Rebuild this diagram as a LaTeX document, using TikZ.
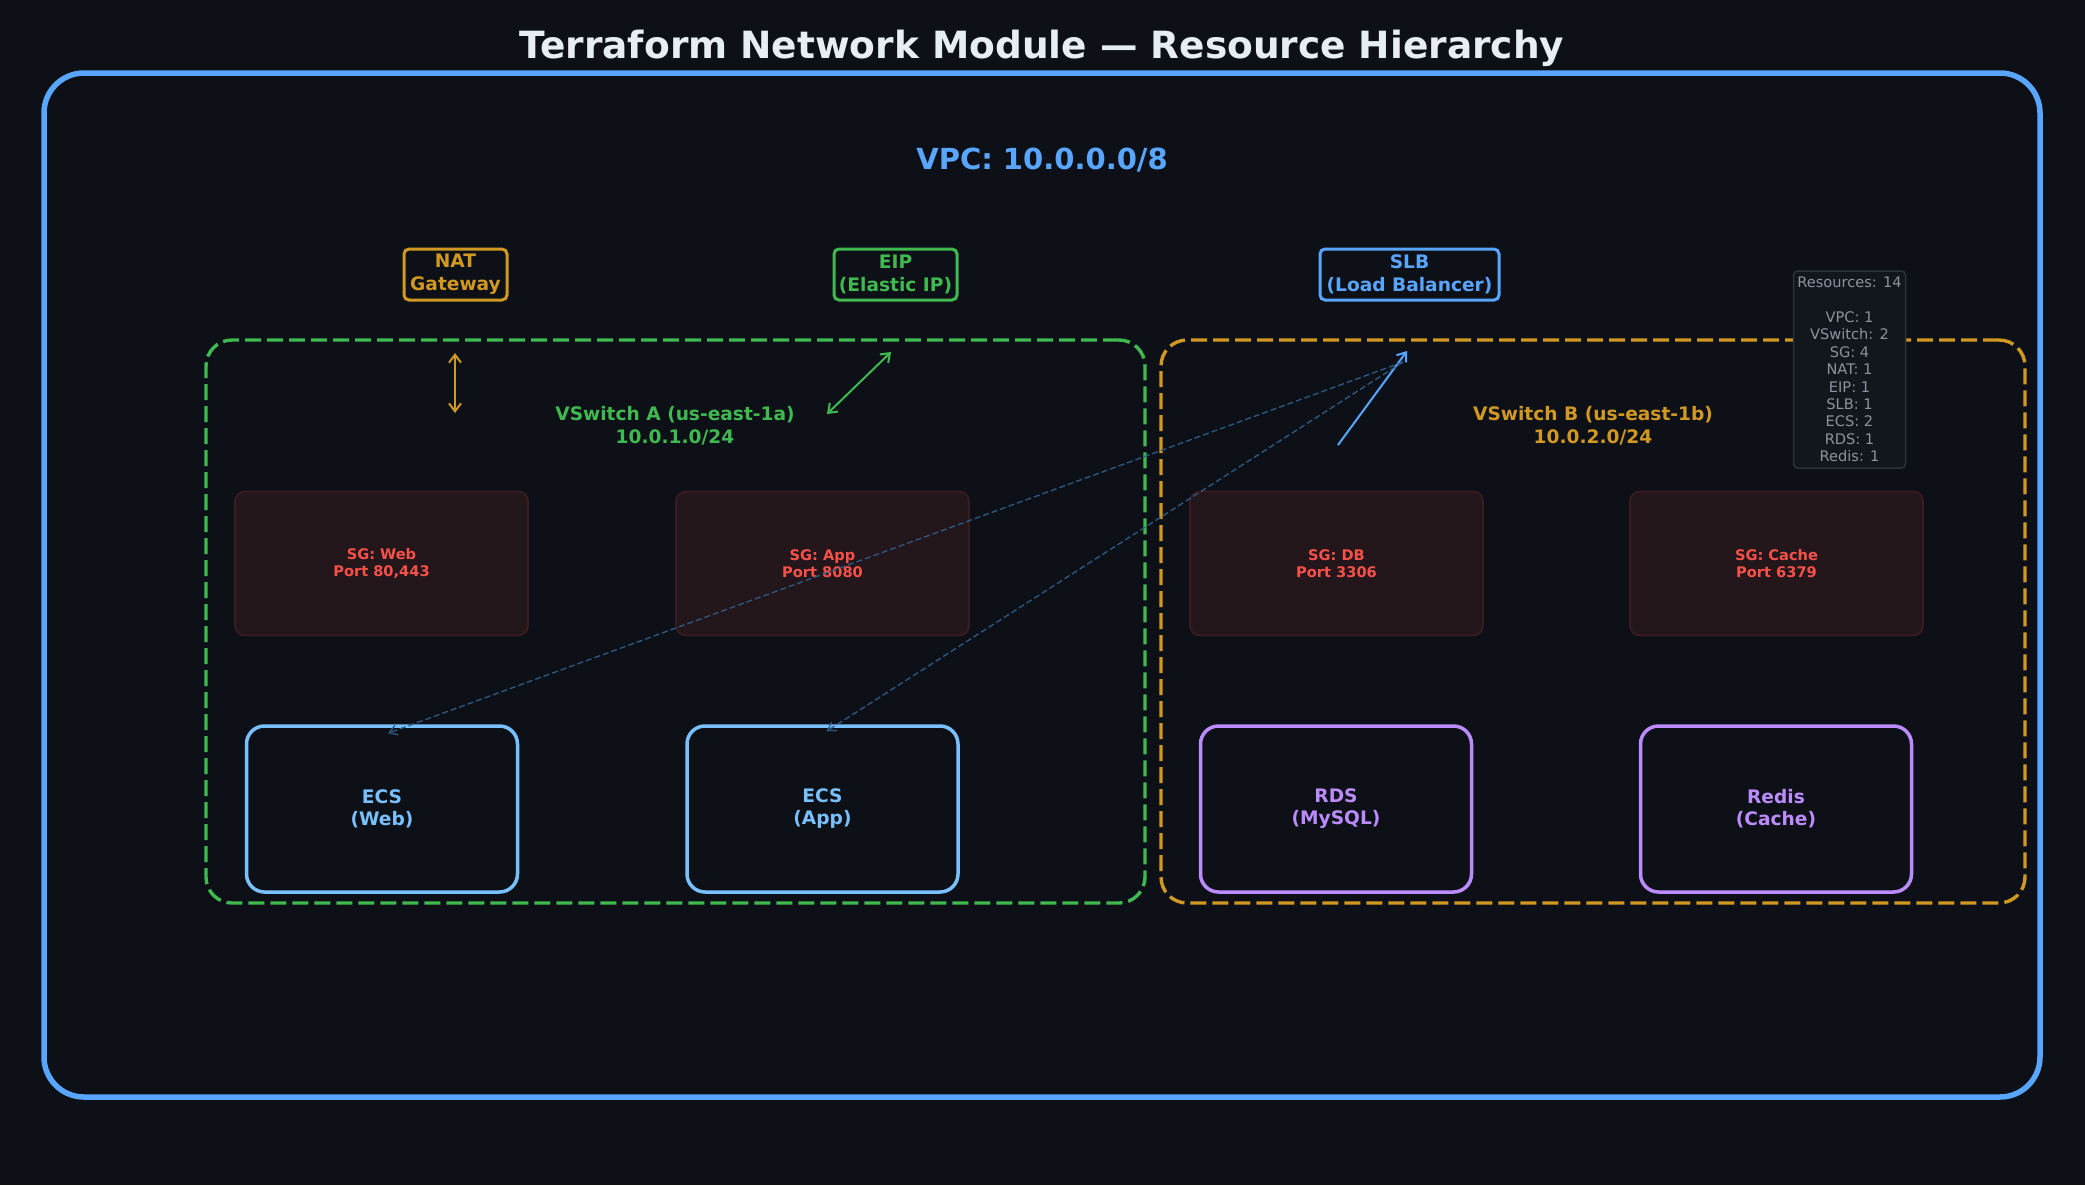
\documentclass[tikz,border=0pt]{standalone}
\usepackage{fontspec}
\setmainfont{DejaVu Sans}
\usepackage{tikz}
\usetikzlibrary{positioning,arrows.meta}
\definecolor{bgdark}{HTML}{0D1117}
\definecolor{titlecol}{HTML}{E6EDF3}
\definecolor{vpcblue}{HTML}{58A6FF}
\definecolor{natorange}{HTML}{D29922}
\definecolor{eipgreen}{HTML}{3FB950}
\definecolor{ecsblue}{HTML}{79C0FF}
\definecolor{dbpurple}{HTML}{BC8CFF}
\definecolor{sgred}{HTML}{F85149}
\definecolor{sgfill}{HTML}{24171C}
\definecolor{sgline}{HTML}{3A1C21}
\definecolor{statfill}{HTML}{12161D}
\definecolor{statline}{HTML}{2D333B}
\definecolor{stattext}{HTML}{8B949E}
\definecolor{linkblue}{HTML}{2E5A85}

\begin{document}
\begin{tikzpicture}[
x=0.5pt, y=-0.5pt,
topbox/.style={draw=#1, text=#1, line width=1.5pt, rounded corners=2.5pt, fill=bgdark, align=center, font=\fontsize{9.3}{11.4}\selectfont\bfseries, inner sep=1.5pt},
zonebox/.style={draw=#1, line width=1.7pt, dash pattern=on 8pt off 3pt, rounded corners=13pt, minimum height=281.5pt},
zonelabel/.style={text=#1, align=center, font=\fontsize{9.3}{11.4}\selectfont\bfseries},
sgbox/.style={draw=sgline, fill=sgfill, line width=0.9pt, rounded corners=5pt, minimum width=146.5pt, minimum height=72pt, text=sgred, align=center, font=\fontsize{7.3}{8.8}\selectfont\bfseries},
svcbox/.style={draw=#1, text=#1, fill=bgdark, line width=1.75pt, rounded corners=9pt, minimum width=135.5pt, minimum height=83pt, align=center, font=\fontsize{9.3}{11}\selectfont\bfseries},
link/.style={-{Straight Barb[length=4pt,width=6pt]}, line width=1pt, #1},
dlink/.style={{Straight Barb[length=4pt,width=6pt]}-{Straight Barb[length=4pt,width=6pt]}, line width=1pt, #1},
weblink/.style={-{Straight Barb[length=4pt,width=5pt]}, line width=0.65pt, linkblue, dash pattern=on 3pt off 1.5pt}
]
\fill[bgdark] (0,0) rectangle (2085,1185);
\useasboundingbox (0,0) rectangle (2085,1185);

\node[text=titlecol, font=\fontsize{18.75}{22}\selectfont\bfseries] (title) at (1042,48) {Terraform Network Module — Resource Hierarchy};
\node[draw=vpcblue, line width=2.75pt, rounded corners=20pt, minimum width=998pt, minimum height=512pt] (vpc) at (1042,585) {};
\node[text=vpcblue, font=\fontsize{14.5}{16}\selectfont\bfseries] (vpclabel) at (1042,160) {VPC: 10.0.0.0/8};

\node[zonebox=eipgreen, minimum width=469.5pt] (vswa) at (675.5,621.5) {};
\node[zonebox=natorange, minimum width=432pt] (vswb) at (1593,621.5) {};
\node[zonelabel=eipgreen] (vswalabel) at (675,426) {VSwitch A (us-east-1a)\\10.0.1.0/24};
\node[zonelabel=natorange] (vswblabel) at (1593,426) {VSwitch B (us-east-1b)\\10.0.2.0/24};

\node[topbox=natorange, minimum width=51.5pt, minimum height=25.5pt] (nat) at (455.5,274.5) {NAT\\Gateway};
\node[topbox=eipgreen, minimum width=61.5pt, minimum height=25.5pt] (eip) at (895.5,274.5) {EIP\\(Elastic IP)};
\node[topbox=vpcblue, minimum width=89.5pt, minimum height=25.5pt] (slb) at (1409.5,274.5) {SLB\\(Load Balancer)};

\node[draw=statline, fill=statfill, line width=0.75pt, rounded corners=2pt, minimum width=56pt, minimum height=98.5pt, text=stattext, align=center, font=\fontsize{7.3}{8.7}\selectfont, inner sep=1pt] (stats) at (1849.5,369.5) {Resources: 14\\[8.7pt]VPC: 1\\VSwitch: 2\\SG: 4\\NAT: 1\\EIP: 1\\SLB: 1\\ECS: 2\\RDS: 1\\Redis: 1};

\node[sgbox] (sgweb) at (381.5,563.5) {SG: Web\\Port 80,443};
\node[sgbox] (sgapp) at (822.5,563.5) {SG: App\\Port 8080};
\node[sgbox] (sgdb) at (1336.5,563.5) {SG: DB\\Port 3306};
\node[sgbox] (sgcache) at (1776.5,563.5) {SG: Cache\\Port 6379};

\node[svcbox=ecsblue] (ecsweb) at (382,809) {ECS\\(Web)};
\node[svcbox=ecsblue] (ecsapp) at (822.5,809) {ECS\\(App)};
\node[svcbox=dbpurple] (rds) at (1336,809) {RDS\\(MySQL)};
\node[svcbox=dbpurple] (redis) at (1776,809) {Redis\\(Cache)};

\coordinate (natin) at (455,353);
\coordinate (natout) at (455,413);
\coordinate (eipin) at (891,352);
\coordinate (eipout) at (827,414);
\coordinate (slbin) at (1407,351);
\coordinate (slbout) at (1338,445);
\coordinate (slbhub) at (1403,362);

\draw[dlink=natorange] (natin) -- (natout);
\draw[dlink=eipgreen] (eipin) -- (eipout);
\draw[link=vpcblue] (slbout) -- (slbin);
\draw[weblink] (slbhub) -- ([xshift=3pt,yshift=-4.5pt]ecsweb.north);
\draw[weblink] (slbhub) -- ([xshift=2pt,yshift=-3.5pt]ecsapp.north);
\end{tikzpicture}
\end{document}
